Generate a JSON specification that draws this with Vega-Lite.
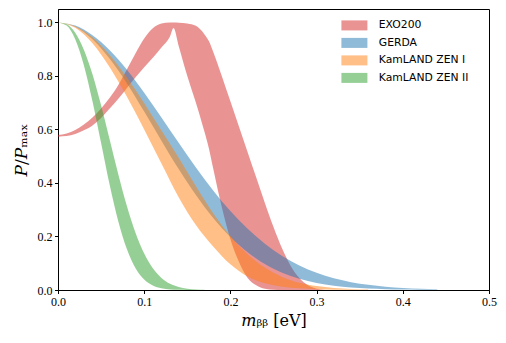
{
  "$schema": "https://vega.github.io/schema/vega-lite/v6.json",
  "autosize": {"type": "none"},
  "width": 431,
  "height": 281,
  "padding": {"left": 58, "top": 9, "right": 17, "bottom": 53},
  "background": "white",
  "config": {
    "view": {"stroke": "black", "strokeWidth": 1},
    "axis": {
      "grid": false,
      "domainColor": "black",
      "domainWidth": 1,
      "tickColor": "black",
      "tickSize": 3.5,
      "tickWidth": 1,
      "labelColor": "black",
      "labelPadding": 2.5,
      "titleFontWeight": "normal",
      "titleColor": "black"
    }
  },
  "data": {
    "values": [
      {"exp": "EXO200", "m": 0.0, "hi": 0.579, "lo": 0.573},
      {"exp": "EXO200", "m": 0.01, "hi": 0.585, "lo": 0.575},
      {"exp": "EXO200", "m": 0.02, "hi": 0.598, "lo": 0.583},
      {"exp": "EXO200", "m": 0.03, "hi": 0.618, "lo": 0.597},
      {"exp": "EXO200", "m": 0.04, "hi": 0.645, "lo": 0.615},
      {"exp": "EXO200", "m": 0.05, "hi": 0.678, "lo": 0.643},
      {"exp": "EXO200", "m": 0.06, "hi": 0.718, "lo": 0.678},
      {"exp": "EXO200", "m": 0.07, "hi": 0.766, "lo": 0.715},
      {"exp": "EXO200", "m": 0.08, "hi": 0.825, "lo": 0.755},
      {"exp": "EXO200", "m": 0.09, "hi": 0.885, "lo": 0.795},
      {"exp": "EXO200", "m": 0.1, "hi": 0.94, "lo": 0.832},
      {"exp": "EXO200", "m": 0.11, "hi": 0.978, "lo": 0.868},
      {"exp": "EXO200", "m": 0.12, "hi": 0.996, "lo": 0.906},
      {"exp": "EXO200", "m": 0.13, "hi": 1.0, "lo": 0.948},
      {"exp": "EXO200", "m": 0.134, "hi": 1.0, "lo": 0.979},
      {"exp": "EXO200", "m": 0.14, "hi": 0.999, "lo": 0.912},
      {"exp": "EXO200", "m": 0.15, "hi": 0.996, "lo": 0.8},
      {"exp": "EXO200", "m": 0.16, "hi": 0.987, "lo": 0.7},
      {"exp": "EXO200", "m": 0.17, "hi": 0.955, "lo": 0.59},
      {"exp": "EXO200", "m": 0.175, "hi": 0.93, "lo": 0.53},
      {"exp": "EXO200", "m": 0.18, "hi": 0.89, "lo": 0.455},
      {"exp": "EXO200", "m": 0.19, "hi": 0.8, "lo": 0.31},
      {"exp": "EXO200", "m": 0.2, "hi": 0.705, "lo": 0.19},
      {"exp": "EXO200", "m": 0.21, "hi": 0.61, "lo": 0.105},
      {"exp": "EXO200", "m": 0.22, "hi": 0.515, "lo": 0.045},
      {"exp": "EXO200", "m": 0.23, "hi": 0.42, "lo": 0.018},
      {"exp": "EXO200", "m": 0.24, "hi": 0.325, "lo": 0.005},
      {"exp": "EXO200", "m": 0.25, "hi": 0.235, "lo": 0.001},
      {"exp": "EXO200", "m": 0.26, "hi": 0.155, "lo": 0.0},
      {"exp": "EXO200", "m": 0.27, "hi": 0.09, "lo": 0.0},
      {"exp": "EXO200", "m": 0.28, "hi": 0.045, "lo": 0.0},
      {"exp": "EXO200", "m": 0.29, "hi": 0.018, "lo": 0.0},
      {"exp": "EXO200", "m": 0.3, "hi": 0.005, "lo": 0.0},
      {"exp": "EXO200", "m": 0.31, "hi": 0.0, "lo": 0.0},

      {"exp": "GERDA", "m": 0.0, "hi": 1.0, "lo": 1.0},
      {"exp": "GERDA", "m": 0.02, "hi": 0.988, "lo": 0.984},
      {"exp": "GERDA", "m": 0.04, "hi": 0.952, "lo": 0.937},
      {"exp": "GERDA", "m": 0.06, "hi": 0.896, "lo": 0.864},
      {"exp": "GERDA", "m": 0.08, "hi": 0.823, "lo": 0.772},
      {"exp": "GERDA", "m": 0.1, "hi": 0.737, "lo": 0.667},
      {"exp": "GERDA", "m": 0.12, "hi": 0.645, "lo": 0.558},
      {"exp": "GERDA", "m": 0.14, "hi": 0.55, "lo": 0.452},
      {"exp": "GERDA", "m": 0.16, "hi": 0.458, "lo": 0.355},
      {"exp": "GERDA", "m": 0.18, "hi": 0.372, "lo": 0.269},
      {"exp": "GERDA", "m": 0.2, "hi": 0.295, "lo": 0.198},
      {"exp": "GERDA", "m": 0.22, "hi": 0.229, "lo": 0.141},
      {"exp": "GERDA", "m": 0.24, "hi": 0.173, "lo": 0.097},
      {"exp": "GERDA", "m": 0.26, "hi": 0.127, "lo": 0.0647},
      {"exp": "GERDA", "m": 0.28, "hi": 0.0916, "lo": 0.0418},
      {"exp": "GERDA", "m": 0.3, "hi": 0.0642, "lo": 0.0261},
      {"exp": "GERDA", "m": 0.32, "hi": 0.044, "lo": 0.0158},
      {"exp": "GERDA", "m": 0.34, "hi": 0.0294, "lo": 0.0093},
      {"exp": "GERDA", "m": 0.36, "hi": 0.0192, "lo": 0.0053},
      {"exp": "GERDA", "m": 0.38, "hi": 0.0122, "lo": 0.0029},
      {"exp": "GERDA", "m": 0.4, "hi": 0.0076, "lo": 0.0015},
      {"exp": "GERDA", "m": 0.42, "hi": 0.0046, "lo": 0.0008},
      {"exp": "GERDA", "m": 0.44, "hi": 0.002, "lo": 0.0003},

      {"exp": "KamLAND ZEN I", "m": 0.0, "hi": 1.0, "lo": 1.0},
      {"exp": "KamLAND ZEN I", "m": 0.02, "hi": 0.986, "lo": 0.98},
      {"exp": "KamLAND ZEN I", "m": 0.04, "hi": 0.944, "lo": 0.922},
      {"exp": "KamLAND ZEN I", "m": 0.06, "hi": 0.878, "lo": 0.832},
      {"exp": "KamLAND ZEN I", "m": 0.08, "hi": 0.794, "lo": 0.722},
      {"exp": "KamLAND ZEN I", "m": 0.1, "hi": 0.698, "lo": 0.6},
      {"exp": "KamLAND ZEN I", "m": 0.12, "hi": 0.596, "lo": 0.473},
      {"exp": "KamLAND ZEN I", "m": 0.14, "hi": 0.494, "lo": 0.347},
      {"exp": "KamLAND ZEN I", "m": 0.16, "hi": 0.388, "lo": 0.243},
      {"exp": "KamLAND ZEN I", "m": 0.18, "hi": 0.287, "lo": 0.163},
      {"exp": "KamLAND ZEN I", "m": 0.2, "hi": 0.202, "lo": 0.096},
      {"exp": "KamLAND ZEN I", "m": 0.22, "hi": 0.134, "lo": 0.05},
      {"exp": "KamLAND ZEN I", "m": 0.24, "hi": 0.084, "lo": 0.025},
      {"exp": "KamLAND ZEN I", "m": 0.26, "hi": 0.049, "lo": 0.0124},
      {"exp": "KamLAND ZEN I", "m": 0.28, "hi": 0.027, "lo": 0.0061},
      {"exp": "KamLAND ZEN I", "m": 0.3, "hi": 0.0146, "lo": 0.0029},
      {"exp": "KamLAND ZEN I", "m": 0.32, "hi": 0.0073, "lo": 0.0013},
      {"exp": "KamLAND ZEN I", "m": 0.34, "hi": 0.0035, "lo": 0.0005},
      {"exp": "KamLAND ZEN I", "m": 0.36, "hi": 0.0015, "lo": 0.0002},

      {"exp": "KamLAND ZEN II", "m": 0.0, "hi": 1.0, "lo": 1.0},
      {"exp": "KamLAND ZEN II", "m": 0.01, "hi": 0.993, "lo": 0.988},
      {"exp": "KamLAND ZEN II", "m": 0.02, "hi": 0.961, "lo": 0.937},
      {"exp": "KamLAND ZEN II", "m": 0.03, "hi": 0.898, "lo": 0.84},
      {"exp": "KamLAND ZEN II", "m": 0.04, "hi": 0.806, "lo": 0.705},
      {"exp": "KamLAND ZEN II", "m": 0.05, "hi": 0.69, "lo": 0.549},
      {"exp": "KamLAND ZEN II", "m": 0.06, "hi": 0.561, "lo": 0.392},
      {"exp": "KamLAND ZEN II", "m": 0.07, "hi": 0.432, "lo": 0.256},
      {"exp": "KamLAND ZEN II", "m": 0.08, "hi": 0.313, "lo": 0.152},
      {"exp": "KamLAND ZEN II", "m": 0.09, "hi": 0.213, "lo": 0.081},
      {"exp": "KamLAND ZEN II", "m": 0.1, "hi": 0.136, "lo": 0.039},
      {"exp": "KamLAND ZEN II", "m": 0.11, "hi": 0.081, "lo": 0.017},
      {"exp": "KamLAND ZEN II", "m": 0.12, "hi": 0.045, "lo": 0.0067},
      {"exp": "KamLAND ZEN II", "m": 0.13, "hi": 0.023, "lo": 0.0022},
      {"exp": "KamLAND ZEN II", "m": 0.14, "hi": 0.011, "lo": 0.0007},
      {"exp": "KamLAND ZEN II", "m": 0.15, "hi": 0.0047, "lo": 0.0002},
      {"exp": "KamLAND ZEN II", "m": 0.16, "hi": 0.002, "lo": 0.0},
      {"exp": "KamLAND ZEN II", "m": 0.17, "hi": 0.0007, "lo": 0.0}
    ]
  },
  "mark": {"type": "area", "interpolate": "monotone", "opacity": 0.5, "stroke": null},
  "encoding": {
    "x": {
      "field": "m",
      "type": "quantitative",
      "scale": {"domain": [0, 0.5], "nice": false, "zero": false},
      "axis": {
        "values": [0, 0.1, 0.2, 0.3, 0.4, 0.5],
        "format": ".1f",
        "labelFlush": false,
        "labelFont": "Liberation Serif",
        "labelFontSize": 12,
        "title": "𝑚ᵦᵦ [eV]",
        "titleFont": "DejaVu Serif",
        "titleFontSize": 16,
        "titlePadding": 5
      }
    },
    "y": {
      "field": "hi",
      "type": "quantitative",
      "scale": {"domain": [0, 1.05], "nice": false, "zero": false},
      "axis": {
        "values": [0, 0.2, 0.4, 0.6, 0.8, 1.0],
        "format": ".1f",
        "labelFont": "Liberation Serif",
        "labelFontSize": 12,
        "title": "𝑃/𝑃ₘₐₓ",
        "titleFont": "DejaVu Serif",
        "titleFontSize": 17,
        "titlePadding": 7
      }
    },
    "y2": {"field": "lo"},
    "color": {
      "field": "exp",
      "type": "nominal",
      "scale": {
        "domain": ["EXO200", "GERDA", "KamLAND ZEN I", "KamLAND ZEN II"],
        "range": ["#d62728", "#1f77b4", "#ff7f0e", "#2ca02c"]
      },
      "legend": {
        "title": null,
        "orient": "none",
        "legendX": 291,
        "legendY": 11,
        "padding": 0,
        "symbolType": "M-2.6,-1H2.6V1H-2.6Z",
        "symbolSize": 100,
        "symbolOpacity": 0.5,
        "symbolStrokeWidth": 0,
        "labelOffset": 19,
        "labelFont": "DejaVu Sans",
        "labelFontSize": 10.8,
        "labelColor": "black",
        "rowPadding": 5.5
      }
    }
  }
}
